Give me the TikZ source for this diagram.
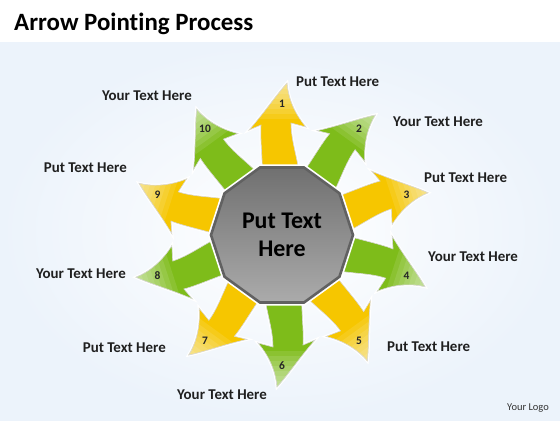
\documentclass[tikz,border=0pt]{standalone}
\usepackage{fontspec}
\setmainfont{Carlito}[Ligatures=NoCommon]
\usetikzlibrary{shapes.geometric}
\definecolor{spokeyellow}{RGB}{246,198,0}
\definecolor{spokegreen}{RGB}{126,188,26}
\definecolor{backblue}{RGB}{236,243,251}
\tikzset{
  spokeoutline/.style={insert path={(-19,-40) .. controls (-19,-75) and (-22,-95) .. (-21,-110) -- (-33,-105) .. controls (-18,-122) and (-6,-140) .. (5,-152) .. controls (6,-138) and (12,-122) .. (24,-108) -- (9,-112) .. controls (9,-90) and (19,-70) .. (19,-40) -- cycle}},
  spoke/.style={fill=#1, preaction={draw=white, line width=3bp}},
  steplabel/.style={font=\bfseries\fontsize{11.5}{13}\selectfont, text=black!85, inner sep=1bp},
  caption/.style={font=\bfseries\fontsize{15}{17}\selectfont, text=black!88, inner sep=0pt},
  hub/.style={regular polygon, regular polygon sides=10, minimum size=142bp, inner sep=0pt,
    top color=black!56, bottom color=black!33, draw=black!62, line width=2.6bp,
    preaction={draw=white, line width=6bp}, align=center,
    font=\bfseries\fontsize{24}{28}\selectfont}
}
\begin{document}
\begin{tikzpicture}[x=1bp,y=-1bp]
\useasboundingbox (0,0) rectangle (560,420);
\fill[white] (0,0) rectangle (560,420);
\shade[inner color=white, outer color=backblue] (0,42) rectangle (560,420);

\node[anchor=base west, font=\bfseries\fontsize{25}{29}\selectfont, inner sep=0pt] (title) at (14,30) {Arrow Pointing Process};

% ten spokes round the hub
\foreach \k/\col in {1/spokeyellow,2/spokegreen,3/spokeyellow,4/spokegreen,5/spokeyellow,6/spokegreen,7/spokeyellow,8/spokegreen,9/spokeyellow,10/spokegreen}{
  \begin{scope}[shift={(282,235)}, rotate=-36*(\k-1)]
    \fill[spoke=\col, spokeoutline];
    \begin{scope}
      \clip[spokeoutline];
      \foreach \j in {0,...,6}
        \fill[white, opacity=0.1] (-40,-116-5*\j) rectangle (40,-160);
    \end{scope}
    \draw[black!15, line width=0.6bp, spokeoutline];
    \node[steplabel] (num\k) at (0,-131) {\k};
  \end{scope}
}

\node[hub] (hub) at (282,235) {Put Text\\Here};

\node[caption, anchor=west] (cap1) at (296,82) {Put Text Here};
\node[caption, anchor=west] (cap2) at (393,122) {Your Text Here};
\node[caption, anchor=west] (cap3) at (424,178) {Put Text Here};
\node[caption, anchor=west] (cap4) at (428,257) {Your Text Here};
\node[caption, anchor=west] (cap5) at (387,347) {Put Text Here};
\node[caption] (cap6) at (222,395) {Your Text Here};
\node[caption, anchor=east] (cap7) at (166,348) {Put Text Here};
\node[caption, anchor=east] (cap8) at (126,274) {Your Text Here};
\node[caption, anchor=east] (cap9) at (127,168) {Put Text Here};
\node[caption, anchor=east] (cap10) at (192,96) {Your Text Here};

\node[anchor=base east, font=\fontsize{10.5}{12}\selectfont, text=black!80, inner sep=0pt] (logo) at (549,410) {Your Logo};
\end{tikzpicture}
\end{document}
